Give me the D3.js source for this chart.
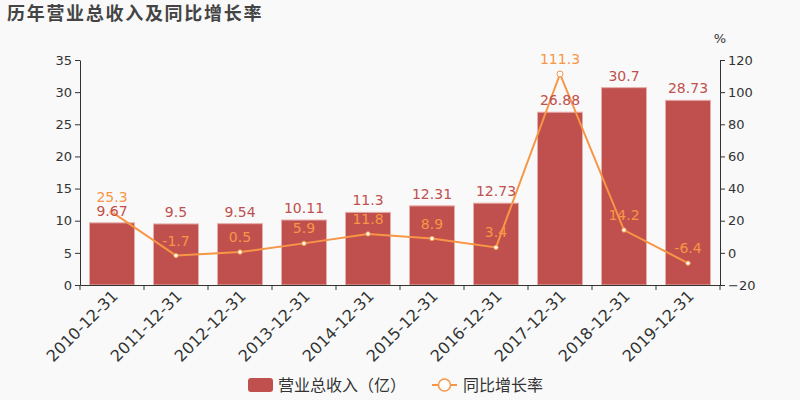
<!DOCTYPE html>
<html><head><meta charset="utf-8">
<script src="https://cdn.jsdelivr.net/npm/d3@7"></script>
<style>body{margin:0;background:#f9f9f9;}svg{display:block;font-family:"DejaVu Sans","Noto Sans CJK SC",sans-serif;}</style>
</head><body><svg id="c" width="800" height="400"></svg>
<script>
const categories = ["2010-12-31","2011-12-31","2012-12-31","2013-12-31","2014-12-31","2015-12-31","2016-12-31","2017-12-31","2018-12-31","2019-12-31"];
const revenue = [9.67,9.5,9.54,10.11,11.3,12.31,12.73,26.88,30.7,28.73];
const growth = [25.3,-1.7,0.5,5.9,11.8,8.9,3.4,111.3,14.2,-6.4];
const leftTicks = [0,5,10,15,20,25,30,35];
const rightTicks = [-20,0,20,40,60,80,100,120];

const svg = d3.select("#c");
const W=800,H=400,L=80,R=720,T=60,B=285;
const barColor="#c0504d", lineColor="#f79646";
svg.append("rect").attr("width",W).attr("height",H).attr("fill","#f9f9f9");
svg.append("text").attr("x",7).attr("y",20).attr("font-size",18).attr("letter-spacing",1.7).attr("font-weight","bold").attr("fill","#444").attr("font-family","'Noto Sans CJK SC',sans-serif").text("历年营业总收入及同比增长率");

const xc = d3.scaleBand().domain(categories).range([L,R]);
const y = d3.scaleLinear().domain([0,35]).range([B,T]);
const y2 = d3.scaleLinear().domain([-20,120]).range([B,T]);

// bars
svg.selectAll(".bar").data(categories).enter().append("rect")
 .attr("x",d=>xc(d)+xc.bandwidth()/2-22.5).attr("width",45)
 .attr("y",(d,i)=>y(revenue[i])).attr("height",(d,i)=>B-y(revenue[i]))
 .attr("fill",barColor).attr("stroke","#e6aeac").attr("stroke-width",1);

// axes
const ax = svg.append("g").attr("transform",`translate(${L},0)`).call(d3.axisLeft(y).tickValues(leftTicks).tickSize(5).tickSizeOuter(0));
const ax2 = svg.append("g").attr("transform",`translate(${R},0)`).call(d3.axisRight(y2).tickValues(rightTicks).tickSize(5).tickSizeOuter(0));
const axb = svg.append("g").attr("transform",`translate(0,${B})`).call(d3.axisBottom(xc).tickSize(5).tickSizeOuter(0).tickValues(categories));
[ax,ax2,axb].forEach(g=>{g.select(".domain").attr("stroke","#333");g.selectAll(".tick line").attr("stroke","#333");g.selectAll("text").attr("fill","#333").attr("font-size",13).attr("font-family","'DejaVu Sans',sans-serif");});
axb.selectAll(".tick line").remove();
const bounds = categories.map(c=>xc(c)).concat([R]);
axb.selectAll(".bt").data(bounds).enter().append("line").attr("x1",d=>d).attr("x2",d=>d).attr("y1",0).attr("y2",5).attr("stroke","#333");
axb.selectAll(".tick text").attr("font-size",16).attr("text-anchor","end").attr("dy","0").attr("y",0)
 .attr("transform","translate(7,12) rotate(-45)");

svg.append("text").attr("x",720).attr("y",43).attr("font-size",13).attr("fill","#333").attr("text-anchor","middle").text("%");

// line
const cx = (d)=>xc(d)+xc.bandwidth()/2;
const line = d3.line().x((d,i)=>cx(categories[i])).y(d=>y2(d));
svg.append("path").datum(growth).attr("d",line).attr("fill","none").attr("stroke",lineColor).attr("stroke-width",2);
svg.selectAll(".pt").data(growth).enter().append("circle").attr("cx",(d,i)=>cx(categories[i])).attr("cy",d=>y2(d))
 .attr("r",(d,i)=>i===7?3:2.2).attr("fill","#fff").attr("stroke",lineColor).attr("stroke-width",1);

// labels
svg.selectAll(".bl").data(revenue).enter().append("text").attr("x",(d,i)=>cx(categories[i])).attr("y",d=>y(d)-7)
 .attr("text-anchor","middle").attr("font-size",14).attr("fill",barColor).text(d=>d);
svg.selectAll(".ll").data(growth).enter().append("text").attr("x",(d,i)=>cx(categories[i])).attr("y",d=>y2(d)-10)
 .attr("text-anchor","middle").attr("font-size",14).attr("fill",lineColor).text(d=>d);

// legend
const lg = svg.append("g").attr("font-family","'Noto Sans CJK SC',sans-serif");
lg.append("rect").attr("x",248).attr("y",378).attr("width",25).attr("height",14).attr("rx",3).attr("fill",barColor);
lg.append("text").attr("x",278).attr("y",391).attr("font-size",16).attr("fill","#333").text("营业总收入（亿）");
lg.append("line").attr("x1",432).attr("x2",457).attr("y1",385).attr("y2",385).attr("stroke",lineColor).attr("stroke-width",2);
lg.append("circle").attr("cx",444.5).attr("cy",385).attr("r",6).attr("fill","#fff").attr("stroke",lineColor).attr("stroke-width",1.5);
lg.append("text").attr("x",463).attr("y",391).attr("font-size",16).attr("fill","#333").text("同比增长率");
</script></body></html>
